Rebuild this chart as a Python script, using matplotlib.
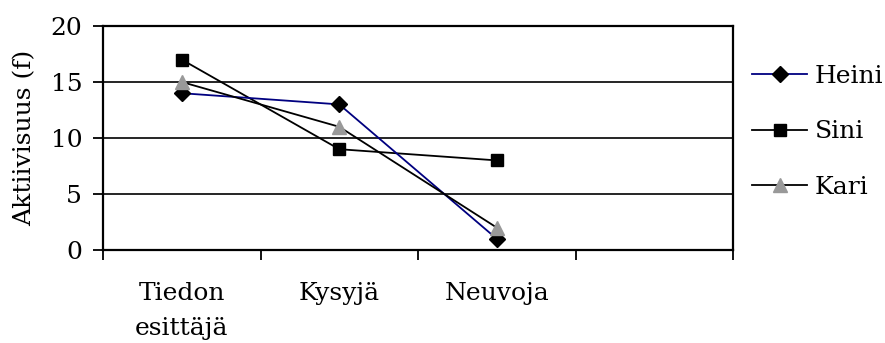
import matplotlib
matplotlib.use("Agg")
import matplotlib.pyplot as plt
from matplotlib.ticker import FixedLocator, NullFormatter

categories = ["Tiedon\nesittäjä", "Kysyjä", "Neuvoja"]
heini = [14, 13, 1]
sini = [17, 9, 8]
kari = [15, 11, 2]
yticks = [0, 5, 10, 15, 20]

plt.rcParams["font.family"] = ["DejaVu Serif"]
FS = 18

fig = plt.figure(figsize=(8.85, 3.43), dpi=100)
ax = fig.add_axes([103 / 885, 1 - 250 / 343, (733 - 103) / 885, (250 - 26) / 343])

xs = [i + 0.5 for i in range(len(categories))]
ax.plot(xs, heini, color="#000080", lw=1.3, marker="D", ms=8,
        mfc="black", mec="black", label="Heini", zorder=4)
ax.plot(xs, sini, color="black", lw=1.3, marker="s", ms=9,
        mfc="black", mec="black", label="Sini", zorder=3)
ax.plot(xs, kari, color="black", lw=1.3, marker="^", ms=10,
        mfc="#999999", mec="#999999", label="Kari", zorder=5)

ax.set_xlim(0, 4)
ax.set_ylim(0, 20)
ax.set_yticks(yticks)
ax.yaxis.grid(True, color="black", lw=1.2)
ax.set_axisbelow(True)

ax.xaxis.set_major_locator(FixedLocator([0, 1, 2, 3, 4]))
ax.xaxis.set_major_formatter(NullFormatter())
ax.xaxis.set_minor_locator(FixedLocator(xs))
ax.set_xticklabels(categories, minor=True)
for lbl in ax.get_xticklabels(minor=True):
    lbl.set_linespacing(1.65)
ax.tick_params(axis="x", which="major", direction="out", length=7, width=1.3)
ax.tick_params(axis="x", which="minor", length=0, pad=23, labelsize=FS)
ax.tick_params(axis="y", direction="out", length=7, width=1.3, labelsize=FS, pad=8)

for s in ["left", "bottom", "right", "top"]:
    ax.spines[s].set_linewidth(1.6)
    ax.spines[s].set_color("black")

ax.set_ylabel("Aktiivisuus (f)", fontsize=FS, labelpad=10)

leg = fig.legend(loc="center left", bbox_to_anchor=(752 / 885, 1 - 132 / 343),
                 frameon=False, fontsize=FS, handlelength=2.2, handletextpad=0.3,
                 labelspacing=1.3, borderpad=0, borderaxespad=0)

fig.savefig("out.png", dpi=100)
